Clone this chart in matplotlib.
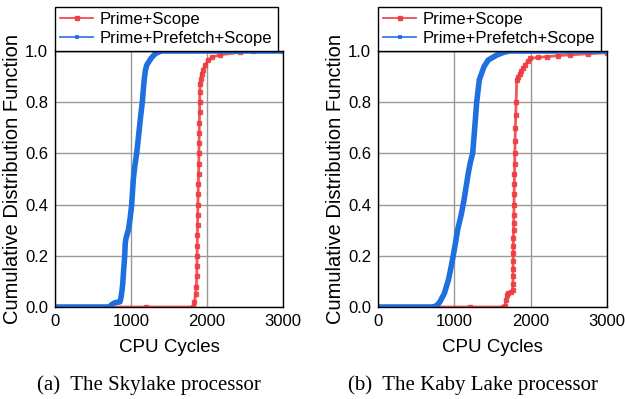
import numpy as np
import matplotlib
matplotlib.use("Agg")
import matplotlib.pyplot as plt

plt.rcParams['font.family'] = ['Liberation Sans', 'DejaVu Sans']

# Skylake: Prime+Scope (cycles, CDF)
sky_ps_x = [0, 600, 1200, 1820, 1835, 1850, 1860, 1865, 1868, 1870, 1872, 1874, 1876,
            1878, 1880, 1883, 1886, 1889, 1892, 1894, 1896, 1898, 1900, 1902, 1904,
            1906, 1910, 1917, 1930, 1945, 1975, 2017, 2060, 2171, 2434, 2600, 3000]
sky_ps_y = [0, 0, 0, 0, 0.02, 0.05, 0.08, 0.12, 0.16, 0.20, 0.24, 0.28, 0.32,
            0.36, 0.40, 0.44, 0.48, 0.52, 0.56, 0.60, 0.64, 0.68, 0.72, 0.76, 0.80,
            0.84, 0.87, 0.89, 0.91, 0.925, 0.945, 0.965, 0.975, 0.985, 0.995, 1.0, 1.0]

# Skylake: Prime+Prefetch+Scope
sky_pps_x = [0, 700, 724, 750, 790, 855, 864, 880, 891, 900, 910, 917, 925, 934, 950,
             965, 990, 1009, 1031, 1050, 1075, 1100, 1125, 1149, 1165, 1176, 1190,
             1207, 1260, 1320, 1400, 3000]
sky_pps_y = [0, 0, 0.003, 0.01, 0.017, 0.02, 0.03, 0.06, 0.09, 0.13, 0.17, 0.20, 0.25,
             0.268, 0.285, 0.30, 0.35, 0.40, 0.50, 0.55, 0.60, 0.67, 0.74, 0.80, 0.86,
             0.893, 0.925, 0.945, 0.97, 0.99, 1.0, 1.0]

# Kaby Lake: Prime+Scope
kaby_ps_x = [0, 600, 1200, 1642, 1664, 1677, 1690, 1708, 1738, 1764, 1768, 1769, 1770,
             1771, 1772, 1773, 1774, 1776, 1778, 1780, 1782, 1784, 1786, 1788, 1790,
             1793, 1796, 1800, 1804, 1810, 1817, 1835, 1855, 1873, 1900, 1926, 1960,
             1991, 2100, 2210, 2360, 2515, 2750, 3000]
kaby_ps_y = [0, 0, 0, 0, 0.005, 0.027, 0.047, 0.053, 0.06, 0.065, 0.09, 0.12, 0.15,
             0.18, 0.21, 0.24, 0.27, 0.30, 0.33, 0.36, 0.40, 0.44, 0.48, 0.52, 0.56,
             0.60, 0.65, 0.70, 0.75, 0.80, 0.887, 0.90, 0.91, 0.92, 0.935, 0.945, 0.96,
             0.971, 0.975, 0.978, 0.982, 0.985, 0.989, 0.993]

# Kaby Lake: Prime+Prefetch+Scope
kaby_pps_x = [0, 700, 747, 790, 812, 869, 922, 960, 987, 1015, 1044, 1090, 1127, 1160,
              1183, 1210, 1240, 1262, 1280, 1293, 1327, 1389, 1445, 1555, 1650, 1729, 3000]
kaby_pps_y = [0, 0, 0.002, 0.012, 0.021, 0.053, 0.105, 0.16, 0.203, 0.25, 0.303, 0.36,
              0.418, 0.48, 0.523, 0.565, 0.60, 0.68, 0.75, 0.80, 0.887, 0.939, 0.965,
              0.984, 0.995, 1.0, 1.0]

captions = ["(a)  The Skylake processor", "(b)  The Kaby Lake processor"]
red = '#ef3b3f'
blue = '#1f6fe0'

fig = plt.figure(figsize=(6.25, 3.99), dpi=100)
ax1 = fig.add_axes([55/625, 92/399, 228/625, 256/399])
ax2 = fig.add_axes([378/625, 92/399, 229/625, 256/399])

data = [(sky_ps_x, sky_ps_y, sky_pps_x, sky_pps_y),
        (kaby_ps_x, kaby_ps_y, kaby_pps_x, kaby_pps_y)]

for ax, (rx, ry, bx, by), cap in zip([ax1, ax2], data, captions):
    ax.plot(rx, ry, color=red, lw=2, marker='s', ms=3.5, alpha=0.85,
            label='Prime+Scope')
    ax.plot(bx, by, color=blue, lw=4, marker='s', ms=3.2, mew=0,
            label='Prime+Prefetch+Scope')
    ax.set_xlim(0, 3000)
    ax.set_ylim(0, 1.0)
    ax.set_xticks([0, 1000, 2000, 3000])
    ax.set_yticks([0, 0.2, 0.4, 0.6, 0.8, 1.0])
    ax.set_yticklabels(['0.0', '0.2', '0.4', '0.6', '0.8', '1.0'])
    ax.grid(True, color='#999999', lw=1)
    ax.set_axisbelow(True)
    ax.tick_params(length=0, labelsize=12, pad=5)
    for s in ax.spines.values():
        s.set_linewidth(1)
    ax.set_xlabel('CPU Cycles', fontsize=13.5, labelpad=7)
    ax.set_ylabel('Cumulative Distribution Function', fontsize=14.5, labelpad=2)
    leg = ax.legend(loc='lower left', bbox_to_anchor=(0, 1), borderaxespad=0,
                    fontsize=12, fancybox=False, edgecolor='black', framealpha=1,
                    numpoints=1, handlelength=2.0, borderpad=0.3, labelspacing=0.22,
                    handletextpad=0.4)
    leg.get_frame().set_linewidth(1)
    for h in leg.legend_handles:
        h.set_linewidth(1.3)
        h.set_alpha(0.9)

fig.text(149/625, 1 - 385/399, captions[0], ha='center', va='center',
         fontsize=15, family='Liberation Serif')
fig.text(473/625, 1 - 385/399, captions[1], ha='center', va='center',
         fontsize=15, family='Liberation Serif')

fig.savefig('out.png', dpi=100)
